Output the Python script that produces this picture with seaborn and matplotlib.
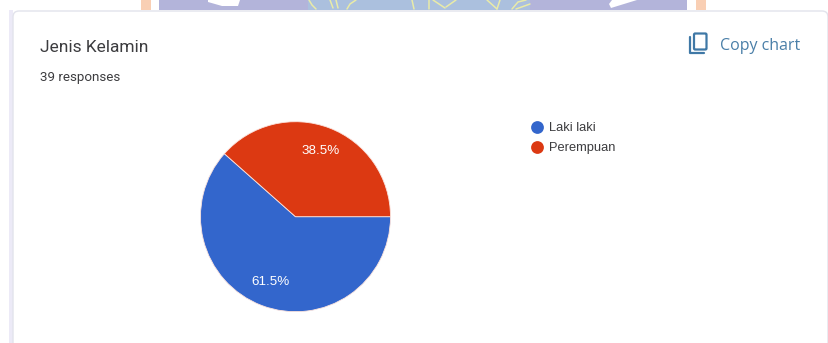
import matplotlib
matplotlib.use("Agg")
import matplotlib.pyplot as plt
from matplotlib.patches import Rectangle, FancyBboxPatch, Polygon
from matplotlib.lines import Line2D
import seaborn as sns

categories = ["Laki laki", "Perempuan"]
responses = [24, 15]
title = "Jenis Kelamin"
subtitle = "39 responses"
action_label = "Copy chart"

sns.set_theme(style="white")
plt.rcParams["font.family"] = ["Roboto", "DejaVu Sans"]
palette = sns.color_palette(["#3366CC", "#DC3912"])

W, H = 829, 343
fig = plt.figure(figsize=(W / 100, H / 100), dpi=100, facecolor="white")

# Page layer in pixel coordinates: banner strip, card and its border
page = fig.add_axes([0, 0, 1, 1])
page.set_xlim(0, W)
page.set_ylim(H, 0)
page.axis("off")
page.add_patch(Rectangle((141, 0), 10, 10, color="#F9CFB4", lw=0))
page.add_patch(Rectangle((159, 0), 528, 10, color="#B3B4DA", lw=0))
page.add_patch(Rectangle((696, 0), 10, 10, color="#F9CFB4", lw=0))
page.add_patch(Rectangle((308, 0), 222, 10, color="#ABC0DE", lw=0))
page.add_patch(Polygon([(208, 0), (240, 0), (238, 6), (222, 6), (208, 2)], color="white", lw=0))
page.add_patch(Polygon([(611, 8), (637, 0), (612, 0), (609, 4)], color="white", lw=0))

# Emblem strokes showing along the lower edge of the banner
emblem_strokes = [
    [(309, 0), (312, 5), (316, 9)], [(330, 0), (333, 8)], [(336, 0), (338, 8)],
    [(347, 9), (350, 4), (356, 0)], [(412, 0), (414, 9)], [(429, 0), (429, 9)],
    [(433, 0), (445, 8)], [(456, 0), (446, 7)], [(487, 0), (497, 9)],
    [(500, 0), (497, 9)], [(512, 9), (518, 2), (526, 0)], [(516, 9), (530, 4)],
]
for stroke in emblem_strokes:
    page.plot(*zip(*stroke), color="#E9EBA8", lw=1.1)

page.add_patch(Rectangle((0, 9.5), W, H, color="white", lw=0))
page.add_patch(Rectangle((9, 9.5), 4, H, color="#ECEAF7", lw=0))
page.add_patch(FancyBboxPatch((13, 11), W - 14, H, boxstyle="round,pad=0,rounding_size=6",
                              fc="white", ec="#E2E3EC", lw=1))

page.text(40, 47.5, title, fontsize=12.5, color="#3C3C3F", va="center", ha="left")
page.text(40, 77, subtitle, fontsize=9.6, color="#3C3C3F", va="center", ha="left")
page.text(720, 45.5, action_label, fontsize=11.5, color="#4A7FA8", va="center", ha="left",
          family=["Open Sans", "DejaVu Sans"])

# Copy icon: front sheet plus the L-shaped sheet behind it
icon = "#3F78A6"
page.add_patch(FancyBboxPatch((694, 33.5), 12.5, 16, boxstyle="round,pad=0,rounding_size=1.2",
                              fc="none", ec=icon, lw=1.6))
page.plot([690, 690, 704], [37, 53, 53], color=icon, lw=1.6, solid_capstyle="round")

# Pie: starts at three o'clock and runs clockwise
pie_ax = fig.add_axes([200.5 / W, 1 - 311.7 / H, 190 / W, 190 / H])
wedges, _, autotexts = pie_ax.pie(
    responses, colors=palette, startangle=0, counterclock=False, radius=1,
    autopct="%.1f%%", pctdistance=0.735,
    wedgeprops={"edgecolor": "#FBE3DD", "linewidth": 0.6},
    textprops={"fontsize": 9.6, "color": "white", "family": ["Liberation Sans", "DejaVu Sans"]},
)
pie_ax.set_xlim(-1, 1)
pie_ax.set_ylim(-1, 1)

# Legend rows: circular swatch and label
handles = [Line2D([], [], ls="", marker="o", ms=9.2, mfc=c, mec="none") for c in palette]
legend = fig.legend(handles, categories, loc="upper left",
                    bbox_to_anchor=(527.3 / W, 1 - 122 / H), bbox_transform=fig.transFigure,
                    frameon=False, handletextpad=0.18, handlelength=1.5, labelspacing=0.62,
                    borderpad=0, borderaxespad=0,
                    prop={"family": ["Liberation Sans", "DejaVu Sans"], "size": 9.3})
for label in legend.get_texts():
    label.set_color("#3C3C3F")

fig.savefig("out.png", dpi=100)
